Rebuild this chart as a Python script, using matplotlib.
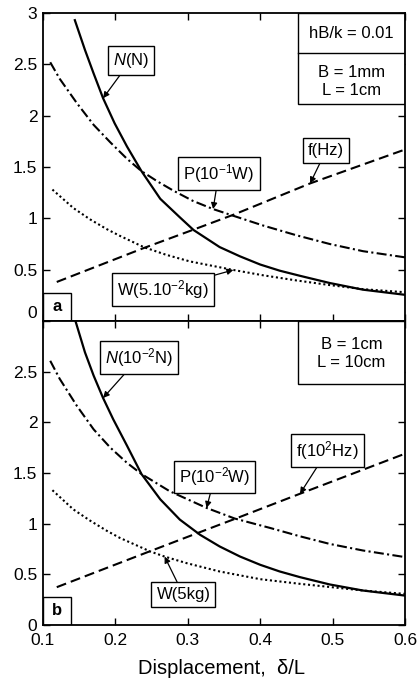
import matplotlib
matplotlib.use("Agg")
import matplotlib.pyplot as plt
from matplotlib.patches import Rectangle

plt.rcParams['font.family'] = ['Liberation Sans', 'DejaVu Sans']
plt.rcParams['mathtext.fontset'] = 'custom'
plt.rcParams['mathtext.rm'] = 'Liberation Sans'
plt.rcParams['mathtext.it'] = 'Liberation Sans:italic'

# ---- data ----
xticks = [0.1, 0.2, 0.3, 0.4, 0.5, 0.6]
xticklabels = ['0.1', '0.2', '0.3', '0.4', '0.5', '0.6']
yticks = [0, 0.5, 1, 1.5, 2, 2.5, 3]
yticklabels = ['0', '0.5', '1', '1.5', '2', '2.5', '3']

# panel a  (hB/k = 0.01, B = 1mm, L = 1cm)
Na_x = [0.144, 0.158, 0.170, 0.183, 0.199, 0.216, 0.236, 0.262, 0.289, 0.308, 0.344, 0.372, 0.400, 0.427, 0.455, 0.496, 0.542, 0.600]
Na_y = [2.93, 2.64, 2.41, 2.17, 1.925, 1.70, 1.46, 1.19, 1.01, 0.886, 0.72, 0.63, 0.55, 0.49, 0.44, 0.37, 0.305, 0.255]
Pa_x = [0.110, 0.123, 0.147, 0.170, 0.193, 0.216, 0.236, 0.258, 0.280, 0.307, 0.335, 0.365, 0.404, 0.450, 0.496, 0.542, 0.600]
Pa_y = [2.52, 2.36, 2.12, 1.91, 1.74, 1.58, 1.46, 1.36, 1.27, 1.17, 1.09, 1.02, 0.93, 0.835, 0.75, 0.68, 0.62]
fa_x = [0.119, 0.239, 0.308, 0.365, 0.469, 0.600]
fa_y = [0.38, 0.71, 0.89, 1.04, 1.34, 1.67]
Wa_x = [0.113, 0.142, 0.165, 0.188, 0.206, 0.239, 0.270, 0.303, 0.363, 0.404, 0.450, 0.496, 0.542, 0.600]
Wa_y = [1.28, 1.10, 0.99, 0.895, 0.83, 0.72, 0.645, 0.58, 0.497, 0.445, 0.395, 0.35, 0.31, 0.28]

# panel b  (B = 1cm, L = 10cm)
Nb_x = [0.144, 0.158, 0.170, 0.183, 0.197, 0.216, 0.236, 0.262, 0.289, 0.317, 0.344, 0.372, 0.400, 0.427, 0.455, 0.496, 0.542, 0.600]
Nb_y = [3.02, 2.69, 2.46, 2.24, 2.03, 1.77, 1.49, 1.24, 1.04, 0.89, 0.775, 0.676, 0.594, 0.528, 0.472, 0.40, 0.34, 0.29]
Pb_x = [0.110, 0.123, 0.147, 0.170, 0.193, 0.216, 0.236, 0.275, 0.326, 0.365, 0.414, 0.455, 0.496, 0.542, 0.600]
Pb_y = [2.607, 2.43, 2.16, 1.93, 1.75, 1.60, 1.49, 1.32, 1.155, 1.05, 0.957, 0.875, 0.80, 0.735, 0.67]
fb_x = [0.119, 0.245, 0.316, 0.368, 0.455, 0.600]
fb_y = [0.373, 0.72, 0.914, 1.055, 1.295, 1.69]
Wb_x = [0.113, 0.142, 0.165, 0.188, 0.206, 0.248, 0.268, 0.2985, 0.344, 0.400, 0.455, 0.496, 0.542, 0.600]
Wb_y = [1.33, 1.14, 1.03, 0.93, 0.86, 0.726, 0.675, 0.61, 0.528, 0.452, 0.406, 0.375, 0.34, 0.307]

fig = plt.figure(figsize=(4.17, 6.99), dpi=100)
ax1 = fig.add_axes([0.1031, 0.5408, 0.868, 0.4406])
ax2 = fig.add_axes([0.1031, 0.1059, 0.868, 0.4349])

boxstyle = dict(boxstyle='square,pad=0.3', fc='white', ec='black', lw=1.0)
arrow = dict(arrowstyle='-|>', color='black', lw=0.9, mutation_scale=9, shrinkA=0, shrinkB=0)


def draw_panel(ax, Nx, Ny, Px, Py, fx, fy, Wx, Wy):
    ax.plot(Nx, Ny, color='black', lw=1.6)
    ax.plot(Px, Py, color='black', lw=1.5, dashes=(4.8, 1.6, 1.0, 1.6))
    ax.plot(fx, fy, color='black', lw=1.5, dashes=(4.8, 2.4))
    ax.plot(Wx, Wy, color='black', lw=1.5, dashes=(1.0, 1.3))
    ax.set_xlim(0.1, 0.6)
    ax.set_ylim(0, 3)
    ax.set_xticks(xticks)
    ax.set_yticks(yticks)
    ax.set_yticklabels(yticklabels)
    ax.tick_params(direction='in', top=True, right=True, length=5, width=1.0,
                   labelsize=12.5, pad=4)
    ax.tick_params(axis='x', pad=6)
    for s in ax.spines.values():
        s.set_linewidth(1.3)


draw_panel(ax1, Na_x, Na_y, Pa_x, Pa_y, fa_x, fa_y, Wa_x, Wa_y)
draw_panel(ax2, Nb_x, Nb_y, Pb_x, Pb_y, fb_x, fb_y, Wb_x, Wb_y)
ax1.set_xticklabels([])
ax1.get_yticklabels()[0].set_va('bottom')
ax2.set_xticklabels(xticklabels)
ax2.set_yticklabels(yticklabels[:-1] + [''])

# curve labels, panel a
ax1.annotate(r'$N$(N)', xy=(Na_x[3], Na_y[3]), xytext=(0.2215, 2.54), ha='center', va='center',
             fontsize=12, bbox=boxstyle, arrowprops=arrow, zorder=2)
ax1.annotate(r'P(10$^{-1}$W)', xy=(Pa_x[10], Pa_y[10]), xytext=(0.343, 1.44), ha='center', va='center',
             fontsize=12, bbox=boxstyle, arrowprops=arrow, zorder=2)
ax1.annotate('f(Hz)', xy=(fa_x[4], fa_y[4]), xytext=(0.491, 1.66), ha='center', va='center',
             fontsize=12, bbox=boxstyle, arrowprops=arrow, zorder=2)
ax1.annotate(r'W(5.10$^{-2}$kg)', xy=(Wa_x[8], Wa_y[8]), xytext=(0.266, 0.307), ha='center', va='center',
             fontsize=12, bbox=boxstyle, arrowprops=arrow, zorder=2)

# curve labels, panel b
ax2.annotate(r'$N$(10$^{-2}$N)', xy=(Nb_x[3], Nb_y[3]), xytext=(0.233, 2.64), ha='center', va='center',
             fontsize=12, bbox=boxstyle, arrowprops=arrow, zorder=2)
ax2.annotate(r'P(10$^{-2}$W)', xy=(Pb_x[8], Pb_y[8]), xytext=(0.337, 1.46), ha='center', va='center',
             fontsize=12, bbox=boxstyle, arrowprops=arrow, zorder=2)
ax2.annotate(r'f(10$^{2}$Hz)', xy=(fb_x[4], fb_y[4]), xytext=(0.493, 1.72), ha='center', va='center',
             fontsize=12, bbox=boxstyle, arrowprops=arrow, zorder=2)
ax2.annotate('W(5kg)', xy=(Wb_x[6], Wb_y[6]), xytext=(0.294, 0.297), ha='center', va='center',
             fontsize=12, bbox=boxstyle, arrowprops=arrow, zorder=2)

# parameter boxes
ax1.add_patch(Rectangle((0.704, 0.705), 0.296, 0.295, transform=ax1.transAxes,
                        fc='white', ec='black', lw=1.0, zorder=2))
ax1.plot([0.704, 1.0], [0.870, 0.870], transform=ax1.transAxes, color='black', lw=1.0, zorder=2)
ax1.text(0.852, 0.935, 'hB/k = 0.01', transform=ax1.transAxes, ha='center', va='center', fontsize=12, zorder=3)
ax1.text(0.852, 0.808, 'B = 1mm', transform=ax1.transAxes, ha='center', va='center', fontsize=12, zorder=3)
ax1.text(0.852, 0.747, 'L = 1cm', transform=ax1.transAxes, ha='center', va='center', fontsize=12, zorder=3)

ax2.add_patch(Rectangle((0.704, 0.792), 0.296, 0.208, transform=ax2.transAxes,
                        fc='white', ec='black', lw=1.0, zorder=2))
ax2.text(0.852, 0.924, 'B = 1cm', transform=ax2.transAxes, ha='center', va='center', fontsize=12, zorder=3)
ax2.text(0.852, 0.865, 'L = 10cm', transform=ax2.transAxes, ha='center', va='center', fontsize=12, zorder=3)

# panel letters
for ax, letter, h in [(ax1, 'a', 0.091), (ax2, 'b', 0.092)]:
    ax.add_patch(Rectangle((0, 0), 0.077, h, transform=ax.transAxes,
                           fc='white', ec='black', lw=1.0, zorder=2))
    ax.text(0.0385, h / 2, letter, transform=ax.transAxes, ha='center', va='center',
            fontsize=12, fontweight='bold', zorder=3)

fig.text(0.532, 0.044, r'Displacement,  δ/L', ha='center', va='center', fontsize=14.5)

plt.savefig('out.png', dpi=100)
